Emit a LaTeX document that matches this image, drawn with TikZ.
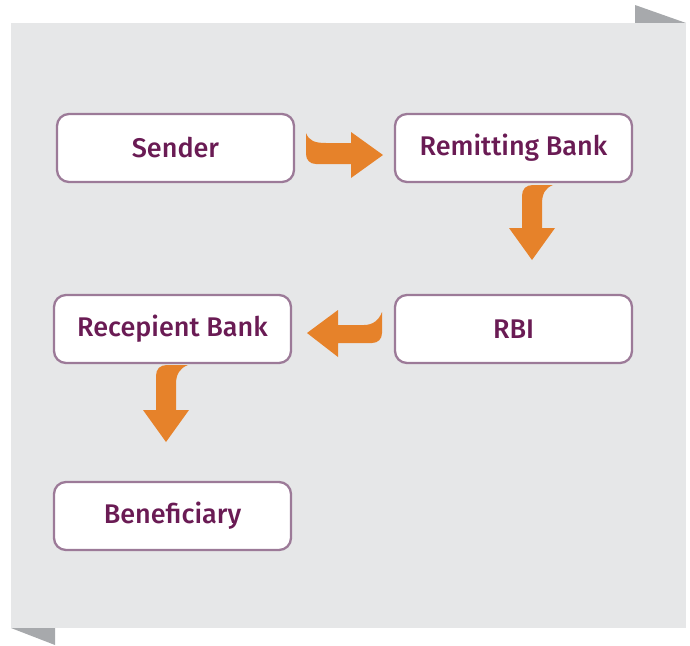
\documentclass[tikz,border=0pt]{standalone}
\usepackage{fontspec}
\setmainfont{Fira Sans}
\IfFontExistsTF{Fira Sans Medium}{\newfontfamily\boxfont{Fira Sans Medium}}{\newfontfamily\boxfont[FakeBold=0.6]{Fira Sans}}
\definecolor{bggray}{HTML}{E6E7E8}
\definecolor{foldgray}{HTML}{A7A9AC}
\definecolor{boxline}{HTML}{9C7A98}
\definecolor{boxtext}{HTML}{6A1B54}
\definecolor{arroworange}{HTML}{E6822A}
\tikzset{
  flowbox/.style={draw=boxline, line width=2.3pt, fill=white, rounded corners=12pt,
    minimum width=237pt, minimum height=68pt, inner sep=0pt,
    font=\boxfont\fontsize{27}{30}\selectfont, text=boxtext},
  fatarrow/.style={fill=arroworange, draw=none}
}
\begin{document}
\begin{tikzpicture}[x=1pt,y=-1pt]
\useasboundingbox (0,0) rectangle (690,645);
% background sheet
\fill[foldgray] (635,5) -- (635,23) -- (686,23) -- cycle;
\fill[foldgray] (11,628) -- (55,628) -- (55,645) -- cycle;
\fill[bggray] (11,23) rectangle (686,628);
% boxes
\node[flowbox] (sender) at (175.5,148) {Sender};
\node[flowbox] (remit) at (513.5,148) {Remitting Bank};
\node[flowbox] (rbi) at (513.5,329) {RBI};
\node[flowbox] (recip) at (172.5,329) {Recepient Bank};
\node[flowbox] (benef) at (172.5,516) {Beneficiary};
% arrow sender -> remitting bank
\fill[fatarrow] (306,133) .. controls (309,141) and (315,143) .. (326,143) -- (351,143)
  -- (351,132) -- (383,155) -- (351,178) -- (351,164) -- (316,164)
  .. controls (310,164) and (306,160) .. (306,154) -- cycle;
% arrow remitting bank -> rbi
\fill[fatarrow] (553,185) .. controls (545,188) and (542,194) .. (542,204) -- (542,228)
  -- (555,228) -- (532,260) -- (509,228) -- (522,228) -- (522,196)
  .. controls (522,189) and (526,185) .. (533,185) -- cycle;
% arrow rbi -> recepient bank
\fill[fatarrow] (382,312) .. controls (379,320) and (373,325) .. (364,325) -- (338,325)
  -- (338,310) -- (307,333) -- (338,357) -- (338,343) -- (372,343)
  .. controls (378,343) and (382,339) .. (382,333) -- cycle;
% arrow recepient bank -> beneficiary
\fill[fatarrow] (188,365) .. controls (180,368) and (176,374) .. (176,384) -- (176,410)
  -- (189,410) -- (166,442) -- (143,410) -- (156,410) -- (156,376)
  .. controls (156,369) and (160,365) .. (167,365) -- cycle;
\end{tikzpicture}
\end{document}
